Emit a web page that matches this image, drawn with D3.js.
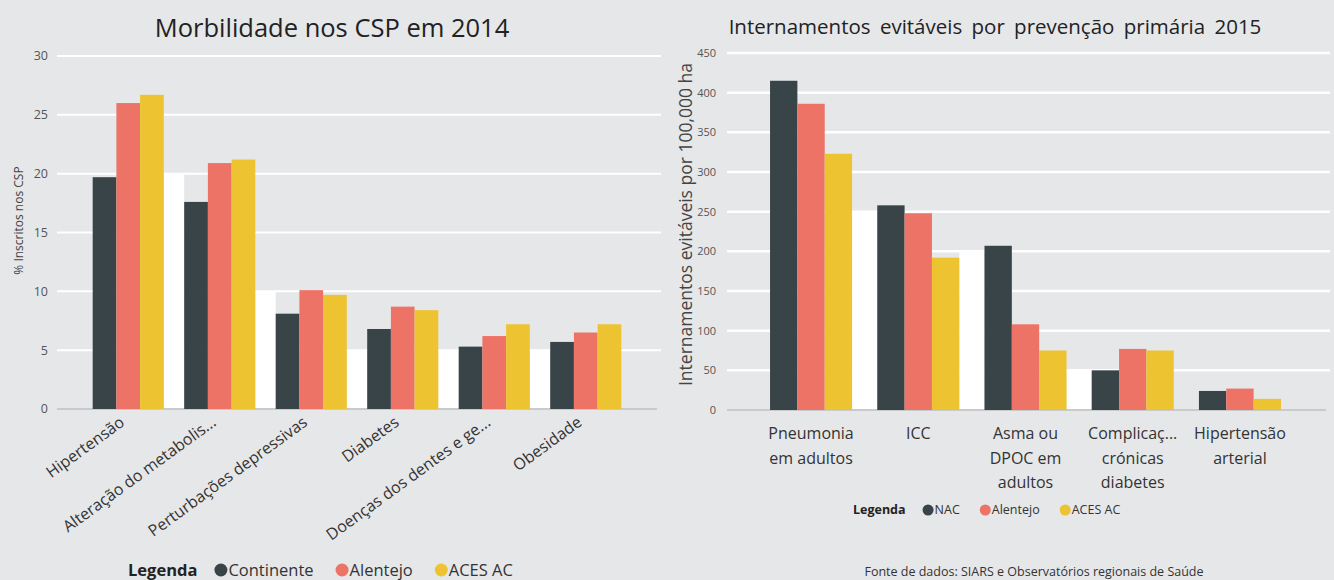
<!DOCTYPE html>
<html lang="pt">
<head>
    <meta charset="UTF-8">
    <title>Morbilidade e internamentos</title>
    <script type="text/javascript" src="https://cdn.jsdelivr.net/npm/d3@7"></script>
    <style type="text/css">
        body { margin: 0; background: #e6e7e9; }
        text { font-family: "Open Sans", sans-serif; }
    </style>
</head>
<body>
    <script type="text/javascript">

        // Chart 1 - Morbilidade nos CSP em 2014
        var morbCategories = ["Hipertensão", "Alteração do metabolis...", "Perturbações depressivas",
                              "Diabetes", "Doenças dos dentes e ge...", "Obesidade"];
        var morbSeries = ["Continente", "Alentejo", "ACES AC"];
        var morbContinente = [19.7, 17.6, 8.1, 6.8, 5.3, 5.7];
        var morbAlentejo = [26.0, 20.9, 10.1, 8.7, 6.2, 6.5];
        var morbAces = [26.7, 21.2, 9.7, 8.4, 7.2, 7.2];
        var morbTicks = [0, 5, 10, 15, 20, 25, 30];

        // Chart 2 - Internamentos evitáveis 2015
        var intCategories = ["Pneumonia em adultos", "ICC", "Asma ou DPOC em adultos",
                             "Complicaç... crónicas diabetes", "Hipertensão arterial"];
        var intLabelLines = [["Pneumonia", "em adultos"], ["ICC"], ["Asma ou", "DPOC em", "adultos"],
                             ["Complicaç...", "crónicas", "diabetes"], ["Hipertensão", "arterial"]];
        var intSeries = ["NAC", "Alentejo", "ACES AC"];
        var intNac = [415, 258, 207, 50, 24];
        var intAlentejo = [386, 248, 108, 77, 27];
        var intAces = [323, 192, 75, 75, 14];
        var intTicks = [0, 50, 100, 150, 200, 250, 300, 350, 400, 450];

        var colors = ["#394448", "#ee7367", "#edc332"];

        var w = 1334;
        var h = 580;

        var svg = d3.select("body")
            .append("svg")
            .attr("width", w)
            .attr("height", h);

        svg.append("rect")
            .attr("width", w)
            .attr("height", h)
            .attr("fill", "#e6e7e9");

        function barChart(cfg) {
            var g = svg.append("g");
            var rows = cfg.categories.map(function(c, i) {
                return { cat: c, values: cfg.values.map(function(s) { return s[i]; }) };
            });

            var x = d3.scaleBand()
                .domain(cfg.categories)
                .range(cfg.xRange)
                .paddingInner(cfg.padIn)
                .paddingOuter(cfg.padOut);

            var xs = d3.scaleBand()
                .domain(cfg.series)
                .range([0, x.bandwidth()]);

            var y = d3.scaleLinear()
                .domain([0, d3.max(cfg.ticks)])
                .range(cfg.yRange);

            var step = cfg.ticks[1] - cfg.ticks[0];

            // white blocks in the gaps between groups
            rows.forEach(function(d, i) {
                if (i == rows.length - 1) return;
                var next = rows[i + 1];
                var top = Math.floor(d3.max(next.values) / step) * step;
                if (top <= 0) return;
                g.append("rect")
                    .attr("x", x(d.cat) + x.bandwidth())
                    .attr("width", x(next.cat) - x(d.cat) - x.bandwidth())
                    .attr("y", y(top))
                    .attr("height", y(0) - y(top))
                    .attr("fill", "#ffffff");
            });

            // gridlines
            g.selectAll("line.grid")
                .data(cfg.ticks.filter(function(t) { return t > 0; }))
                .enter()
                .append("line")
                .attr("class", "grid")
                .attr("x1", cfg.gridX[0])
                .attr("x2", cfg.gridX[1])
                .attr("y1", function(d) { return y(d); })
                .attr("y2", function(d) { return y(d); })
                .attr("stroke", "#ffffff")
                .attr("stroke-width", cfg.gridWidth);

            g.append("line")
                .attr("x1", cfg.gridX[0])
                .attr("x2", cfg.gridX[1] - 4)
                .attr("y1", y(0))
                .attr("y2", y(0))
                .attr("stroke", "#c9cacc")
                .attr("stroke-width", 2);

            // y tick labels
            g.selectAll("text.tick")
                .data(cfg.ticks)
                .enter()
                .append("text")
                .attr("class", "tick")
                .attr("x", cfg.tickX)
                .attr("y", function(d) { return y(d); })
                .attr("dy", "0.35em")
                .attr("text-anchor", "end")
                .attr("font-size", cfg.tickSize)
                .attr("fill", "#555")
                .text(function(d) { return d; });

            // bars
            var groups = g.selectAll("g.grp")
                .data(rows)
                .enter()
                .append("g")
                .attr("class", "grp")
                .attr("transform", function(d) { return "translate(" + x(d.cat) + ",0)"; });

            groups.selectAll("rect")
                .data(function(d) { return d.values.map(function(v, j) { return { s: cfg.series[j], v: v, j: j }; }); })
                .enter()
                .append("rect")
                .attr("x", function(d) { return xs(d.s); })
                .attr("width", xs.bandwidth())
                .attr("y", function(d) { return y(d.v); })
                .attr("height", function(d) { return y(0) - y(d.v); })
                .attr("fill", function(d) { return colors[d.j]; });

            // axis title
            g.append("text")
                .attr("transform", "translate(" + cfg.yLabelX + "," + ((cfg.yRange[0] + cfg.yRange[1]) / 2 + cfg.yLabelShift) + ") rotate(-90)")
                .attr("text-anchor", "middle")
                .attr("dy", "0.35em")
                .attr("font-size", cfg.yLabelSize)
                .attr("fill", "#444")
                .text(cfg.yLabel);

            // chart title
            g.append("text")
                .attr("x", cfg.titleX)
                .attr("y", cfg.titleY)
                .attr("text-anchor", "middle")
                .attr("font-size", cfg.titleSize)
                .attr("word-spacing", cfg.titleSpacing)
                .attr("fill", "#222")
                .text(cfg.title);

            return { x: x, y: y, g: g };
        }

        function legend(cfg) {
            var lg = svg.append("g").attr("transform", "translate(" + cfg.x + "," + cfg.y + ")");
            var head = lg.append("text")
                .attr("dy", "0.35em")
                .attr("font-size", cfg.size)
                .attr("font-weight", "bold")
                .attr("fill", "#222")
                .text("Legenda");
            var cx = head.node().getComputedTextLength() + cfg.gap;
            cfg.series.forEach(function(s, i) {
                lg.append("circle")
                    .attr("cx", cx + cfg.r)
                    .attr("cy", 0)
                    .attr("r", cfg.r)
                    .attr("fill", colors[i]);
                var t = lg.append("text")
                    .attr("x", cx + cfg.r * 2 + 1)
                    .attr("dy", "0.35em")
                    .attr("font-size", cfg.size)
                    .attr("fill", "#333")
                    .text(s);
                cx += cfg.r * 2 + 1 + t.node().getComputedTextLength() + cfg.gap2;
            });
        }

        // left chart
        var left = barChart({
            categories: morbCategories,
            series: morbSeries,
            values: [morbContinente, morbAlentejo, morbAces],
            ticks: morbTicks,
            xRange: [57, 657],
            gridX: [57, 661],
            padIn: 0.223,
            padOut: 0.39,
            yRange: [409, 56],
            gridWidth: 2,
            tickX: 48,
            tickSize: 12.5,
            yLabel: "% Inscritos nos CSP",
            yLabelX: 19,
            yLabelShift: -12,
            yLabelSize: 12,
            title: "Morbilidade nos CSP em 2014",
            titleX: 332,
            titleY: 37,
            titleSize: 25.5,
            titleSpacing: 0
        });

        left.g.selectAll("text.xl")
            .data(morbCategories)
            .enter()
            .append("text")
            .attr("class", "xl")
            .attr("transform", function(d) {
                return "translate(" + (left.x(d) + left.x.bandwidth() / 2 - 6) + ",420) rotate(-36)";
            })
            .attr("text-anchor", "end")
            .attr("dy", "0.35em")
            .attr("font-size", 16)
            .attr("fill", "#333")
            .text(function(d) { return d; });

        legend({ x: 128, y: 570, size: 16.5, r: 6.5, gap: 17, gap2: 22, series: morbSeries });

        // right chart
        var right = barChart({
            categories: intCategories,
            series: intSeries,
            values: [intNac, intAlentejo, intAces],
            ticks: intTicks,
            xRange: [725, 1326],
            gridX: [727, 1330],
            padIn: 0.235,
            padOut: 0.42,
            yRange: [410, 53],
            gridWidth: 2.5,
            tickX: 716,
            tickSize: 11,
            yLabel: "Internamentos evitáveis por 100,000 ha",
            yLabelX: 686,
            yLabelShift: -7,
            yLabelSize: 17.5,
            title: "Internamentos  evitáveis  por  prevenção  primária 2015",
            titleX: 995,
            titleY: 34,
            titleSize: 20.5,
            titleSpacing: 4
        });

        var xl = right.g.selectAll("text.xl")
            .data(intCategories)
            .enter()
            .append("text")
            .attr("class", "xl")
            .attr("x", function(d) { return right.x(d) + right.x.bandwidth() / 2; })
            .attr("y", 439)
            .attr("text-anchor", "middle")
            .attr("font-size", 16)
            .attr("fill", "#333");

        xl.selectAll("tspan")
            .data(function(d, i) { return intLabelLines[i]; })
            .enter()
            .append("tspan")
            .attr("x", function() { return d3.select(this.parentNode).attr("x"); })
            .attr("dy", function(d, i) { return i == 0 ? 0 : 24.5; })
            .text(function(d) { return d; });

        legend({ x: 853, y: 510, size: 12.5, r: 5.5, gap: 17, gap2: 20, series: intSeries });

        svg.append("text")
            .attr("x", 1034)
            .attr("y", 576)
            .attr("text-anchor", "middle")
            .attr("font-size", 12.5)
            .attr("fill", "#333")
            .text("Fonte de dados: SIARS e Observatórios regionais de Saúde");

    </script>
</body>
</html>
